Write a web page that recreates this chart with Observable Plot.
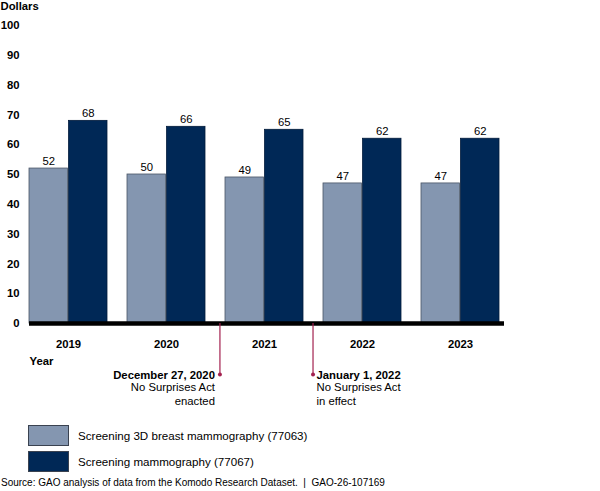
<!DOCTYPE html>
<html>
<head>
<meta charset="utf-8">
<script src="https://cdn.jsdelivr.net/npm/d3@7"></script>
<script src="https://cdn.jsdelivr.net/npm/@observablehq/plot@0.6"></script>
<style>
  html, body { margin: 0; padding: 0; background: #fff; }
  body { width: 600px; height: 491px; overflow: hidden; font-family: "Liberation Sans", Arial, sans-serif; color: #000; }
  #chart svg { display: block; }
  #legend { margin-top: 13px; margin-left: 28px; font-size: 11.6px; }
  .row { display: flex; align-items: center; height: 21px; margin-bottom: 5px; }
  .sw { box-sizing: border-box; width: 41px; height: 21px; border: 1px solid #3a4250; margin-right: 9px; }
  #source { font-size: 10px; line-height: 12px; margin-top: 3px; margin-left: 1px; white-space: pre; }
</style>
</head>
<body>
<div id="chart"></div>
<div id="legend"></div>
<div id="source">Source: GAO analysis of data from the Komodo Research Dataset.  |  GAO-26-107169</div>
<script>
const years = ["2019", "2020", "2021", "2022", "2023"];
const series = ["Screening 3D breast mammography (77063)", "Screening mammography (77067)"];
const values3D = [52, 50, 49, 47, 47];
const valuesScreening = [68, 66, 65, 62, 62];
const yTicks = [0, 10, 20, 30, 40, 50, 60, 70, 80, 90, 100];
const annotations = [
  {year: "2020", date: "December 27, 2020", note: "No Surprises Act\nenacted"},
  {year: "2022", date: "January 1, 2022", note: "No Surprises Act\nin effect"}
];

const colors = ["#8496b0", "#002856"];
const strokes = ["#4a5666", "#001a3a"];
const annoColor = "#a3214f";
const fs = 11.3;

const width = 600, height = 412;
const marginLeft = 29, marginRight = 96, marginTop = 25, marginBottom = 89;
const paddingInner = 0.2;

// same band layout Plot will compute, to split each band into two bars
const band = d3.scaleBand().domain(years).range([marginLeft, width - marginRight]).paddingInner(paddingInner).paddingOuter(0).align(0);
const bw = band.bandwidth();
const gap = band.step() - bw;

const data3D = years.map((y, i) => ({year: y, value: values3D[i]}));
const dataScr = years.map((y, i) => ({year: y, value: valuesScreening[i]}));

const annoDepth = 51;
const annoDx = [bw / 2 + 0.7 * gap, -(bw / 2 + 0.5 * gap)];

const annoMarks = annotations.flatMap((a, i) => {
  const d = [a];
  const dx = annoDx[i];
  const right = i === 0;
  const tdx = dx + (right ? -5 : 3.5);
  return [
    Plot.ruleX(d, {x: "year", y1: 0, y2: 0, dx, insetBottom: -annoDepth, stroke: annoColor, strokeWidth: 1.2}),
    Plot.dot(d, {x: "year", y: 0, dx, dy: annoDepth, r: 2, fill: annoColor, stroke: null}),
    Plot.text(d, {x: "year", y: 0, text: "date", dx: tdx, dy: annoDepth + 0.5, textAnchor: right ? "end" : "start", lineAnchor: "middle", fontWeight: "bold", fontSize: fs}),
    Plot.text(d, {x: "year", y: 0, text: "note", dx: tdx, dy: annoDepth + 7.5, textAnchor: right ? "end" : "start", lineAnchor: "top", lineHeight: 13.3 / fs, fontSize: fs})
  ];
});

const chart = Plot.plot({
  width, height, marginLeft, marginRight, marginTop, marginBottom,
  style: {fontFamily: "Liberation Sans, Arial, sans-serif", fontSize: fs + "px", color: "#000", background: "#fff"},
  x: {domain: years, paddingInner, paddingOuter: 0, align: 0, label: null, axis: null},
  y: {domain: [0, 100], label: null, axis: null},
  marks: [
    Plot.axisY({ticks: yTicks, tickSize: 0, tickPadding: 10, fontWeight: "bold", fontSize: fs, label: null}),
    Plot.axisX({tickSize: 0, tickPadding: 16.5, fontWeight: "bold", fontSize: fs, label: null}),
    Plot.barY(data3D, {x: "year", y: "value", fill: colors[0], stroke: strokes[0], strokeWidth: 0.8, insetRight: bw / 2}),
    Plot.barY(dataScr, {x: "year", y: "value", fill: colors[1], stroke: strokes[1], strokeWidth: 0.8, insetLeft: bw / 2}),
    Plot.text(data3D, {x: "year", y: "value", text: d => String(d.value), dx: -bw / 4, dy: -3.5, lineAnchor: "bottom", fontSize: fs}),
    Plot.text(dataScr, {x: "year", y: "value", text: d => String(d.value), dx: bw / 4, dy: -3.5, lineAnchor: "bottom", fontSize: fs}),
    Plot.ruleY([0], {stroke: "#000", strokeWidth: 4.5}),
    Plot.text(["Dollars"], {frameAnchor: "top-left", dx: -marginLeft, dy: -19, text: d => d, fontWeight: "bold", fontSize: fs, lineAnchor: "middle", textAnchor: "start"}),
    Plot.text(["Year"], {frameAnchor: "bottom-left", dy: 38, text: d => d, fontWeight: "bold", fontSize: fs, lineAnchor: "middle", textAnchor: "start"}),
    ...annoMarks
  ]
});
document.getElementById("chart").appendChild(chart);

const legend = document.getElementById("legend");
series.forEach((s, i) => {
  const row = document.createElement("div");
  row.className = "row";
  const sw = document.createElement("div");
  sw.className = "sw";
  sw.style.background = colors[i];
  const label = document.createElement("span");
  label.textContent = s;
  row.appendChild(sw);
  row.appendChild(label);
  legend.appendChild(row);
});
</script>
</body>
</html>
